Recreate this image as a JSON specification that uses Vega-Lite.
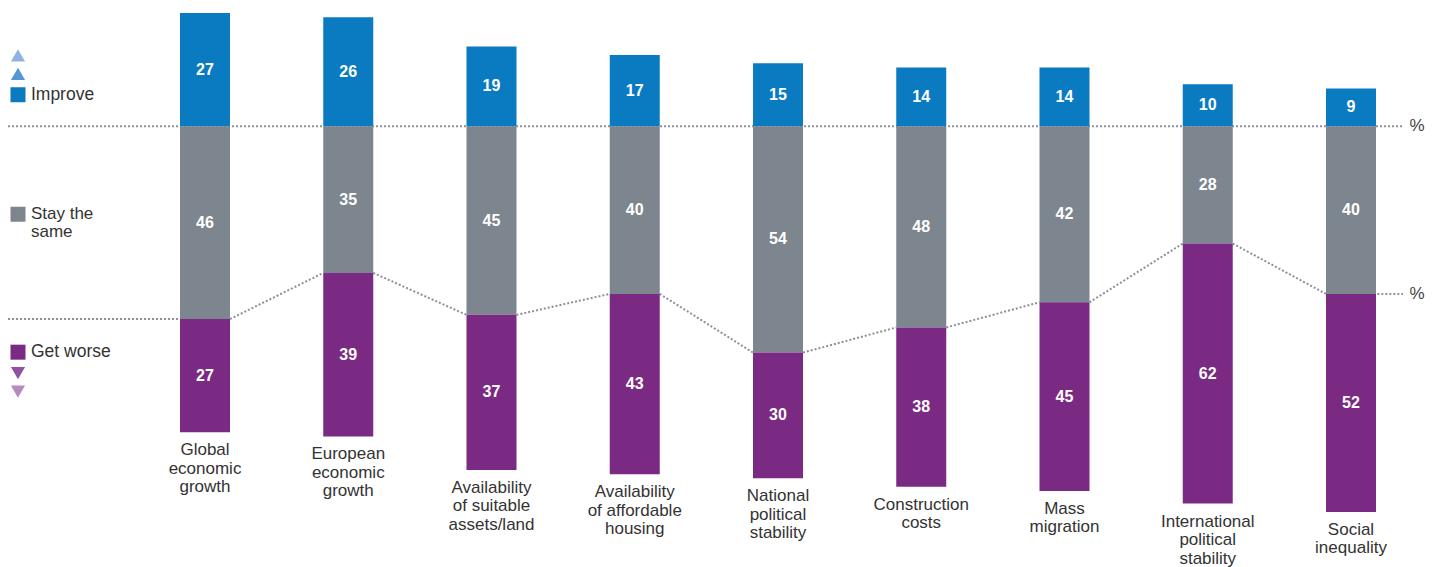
{
  "$schema": "https://vega.github.io/schema/vega-lite/v6.json",
  "width": 1435,
  "height": 567,
  "autosize": {"type": "fit", "contains": "padding"},
  "padding": 0,
  "background": "white",
  "config": {"view": {"stroke": null}, "font": "Liberation Sans"},
  "data": {
    "values": [
      {"cat": "Global\neconomic\ngrowth", "resp": "Improve", "pct": 27},
      {"cat": "Global\neconomic\ngrowth", "resp": "Stay the same", "pct": 46},
      {"cat": "Global\neconomic\ngrowth", "resp": "Get worse", "pct": 27},
      {"cat": "European\neconomic\ngrowth", "resp": "Improve", "pct": 26},
      {"cat": "European\neconomic\ngrowth", "resp": "Stay the same", "pct": 35},
      {"cat": "European\neconomic\ngrowth", "resp": "Get worse", "pct": 39},
      {"cat": "Availability\nof suitable\nassets/land", "resp": "Improve", "pct": 19},
      {"cat": "Availability\nof suitable\nassets/land", "resp": "Stay the same", "pct": 45},
      {"cat": "Availability\nof suitable\nassets/land", "resp": "Get worse", "pct": 37},
      {"cat": "Availability\nof affordable\nhousing", "resp": "Improve", "pct": 17},
      {"cat": "Availability\nof affordable\nhousing", "resp": "Stay the same", "pct": 40},
      {"cat": "Availability\nof affordable\nhousing", "resp": "Get worse", "pct": 43},
      {"cat": "National\npolitical\nstability", "resp": "Improve", "pct": 15},
      {"cat": "National\npolitical\nstability", "resp": "Stay the same", "pct": 54},
      {"cat": "National\npolitical\nstability", "resp": "Get worse", "pct": 30},
      {"cat": "Construction\ncosts", "resp": "Improve", "pct": 14},
      {"cat": "Construction\ncosts", "resp": "Stay the same", "pct": 48},
      {"cat": "Construction\ncosts", "resp": "Get worse", "pct": 38},
      {"cat": "Mass\nmigration", "resp": "Improve", "pct": 14},
      {"cat": "Mass\nmigration", "resp": "Stay the same", "pct": 42},
      {"cat": "Mass\nmigration", "resp": "Get worse", "pct": 45},
      {"cat": "International\npolitical\nstability", "resp": "Improve", "pct": 10},
      {"cat": "International\npolitical\nstability", "resp": "Stay the same", "pct": 28},
      {"cat": "International\npolitical\nstability", "resp": "Get worse", "pct": 62},
      {"cat": "Social\ninequality", "resp": "Improve", "pct": 9},
      {"cat": "Social\ninequality", "resp": "Stay the same", "pct": 40},
      {"cat": "Social\ninequality", "resp": "Get worse", "pct": 52}
    ]
  },
  "resolve": {"scale": {"y": "independent"}},
  "layer": [
    {
      "transform": [
        {"filter": "datum.resp === 'Stay the same'"},
        {"window": [{"op": "lead", "field": "cat", "as": "nextCat"}, {"op": "first_value", "field": "cat", "as": "firstCat"}], "frame": [null, null]},
        {"filter": "datum.nextCat == null"}
      ],
      "mark": {"type": "rule", "color": "#8a9199", "strokeWidth": 2, "strokeDash": [2, 2]},
      "encoding": {
        "x": {"field": "firstCat", "type": "nominal", "bandPosition": -0.875, "axis": null,
          "scale": {"domain": ["legend", "Global\neconomic\ngrowth", "European\neconomic\ngrowth", "Availability\nof suitable\nassets/land", "Availability\nof affordable\nhousing", "National\npolitical\nstability", "Construction\ncosts", "Mass\nmigration", "International\npolitical\nstability", "Social\ninequality"], "range": [-9.875, 1422.625], "paddingInner": 0, "paddingOuter": 0}},
        "x2": {"field": "cat", "bandPosition": 0.863},
        "y": {"datum": 0, "type": "quantitative", "axis": null, "scale": {"domain": [-104.9, 30.1], "nice": false, "zero": false}}
      }
    },
    {
      "transform": [
        {"filter": "datum.resp === 'Stay the same'"},
        {"window": [{"op": "lag", "field": "cat", "as": "prevCat"}]},
        {"filter": "datum.prevCat == null"}
      ],
      "mark": {"type": "rule", "color": "#8a9199", "strokeWidth": 2, "strokeDash": [2, 2]},
      "encoding": {
        "x": {"field": "cat", "type": "nominal", "bandPosition": -0.875, "axis": null,
          "scale": {"domain": ["legend", "Global\neconomic\ngrowth", "European\neconomic\ngrowth", "Availability\nof suitable\nassets/land", "Availability\nof affordable\nhousing", "National\npolitical\nstability", "Construction\ncosts", "Mass\nmigration", "International\npolitical\nstability", "Social\ninequality"], "range": [-9.875, 1422.625], "paddingInner": 0, "paddingOuter": 0}},
        "x2": {"field": "cat", "bandPosition": 0.4},
        "y": {"field": "pct", "type": "quantitative", "axis": null, "scale": {"domain": [-30.1, 104.9], "reverse": true, "nice": false, "zero": false}}
      }
    },
    {
      "transform": [
        {"filter": "datum.resp === 'Stay the same'"},
        {"window": [{"op": "lead", "field": "cat", "as": "nextCat"}, {"op": "lead", "field": "pct", "as": "nextPct"}]},
        {"filter": "datum.nextCat != null"}
      ],
      "mark": {"type": "rule", "color": "#8a9199", "strokeWidth": 2, "strokeDash": [2, 2]},
      "encoding": {
        "x": {"field": "cat", "type": "nominal", "bandPosition": 0.6745, "axis": null,
          "scale": {"domain": ["legend", "Global\neconomic\ngrowth", "European\neconomic\ngrowth", "Availability\nof suitable\nassets/land", "Availability\nof affordable\nhousing", "National\npolitical\nstability", "Construction\ncosts", "Mass\nmigration", "International\npolitical\nstability", "Social\ninequality"], "range": [-9.875, 1422.625], "paddingInner": 0, "paddingOuter": 0}},
        "x2": {"field": "nextCat", "bandPosition": 0.3255},
        "y": {"field": "pct", "type": "quantitative", "axis": null, "scale": {"domain": [-30.1, 104.9], "reverse": true, "nice": false, "zero": false}},
        "y2": {"field": "nextPct"}
      }
    },
    {
      "transform": [
        {"filter": "datum.resp === 'Stay the same'"},
        {"window": [{"op": "lead", "field": "cat", "as": "nextCat"}]},
        {"filter": "datum.nextCat == null"}
      ],
      "mark": {"type": "rule", "color": "#8a9199", "strokeWidth": 2, "strokeDash": [2, 2]},
      "encoding": {
        "x": {"field": "cat", "type": "nominal", "bandPosition": 0.6, "axis": null,
          "scale": {"domain": ["legend", "Global\neconomic\ngrowth", "European\neconomic\ngrowth", "Availability\nof suitable\nassets/land", "Availability\nof affordable\nhousing", "National\npolitical\nstability", "Construction\ncosts", "Mass\nmigration", "International\npolitical\nstability", "Social\ninequality"], "range": [-9.875, 1422.625], "paddingInner": 0, "paddingOuter": 0}},
        "x2": {"field": "cat", "bandPosition": 0.863},
        "y": {"field": "pct", "type": "quantitative", "axis": null, "scale": {"domain": [-30.1, 104.9], "reverse": true, "nice": false, "zero": false}}
      }
    },
    {
      "transform": [
        {"filter": "datum.resp === 'Improve'"},
        {"stack": "pct", "groupby": ["cat"], "as": ["s0", "s1"]}
      ],
      "mark": {"type": "bar", "width": 50},
      "encoding": {
        "x": {"field": "cat", "type": "nominal", "axis": null,
          "scale": {"domain": ["legend", "Global\neconomic\ngrowth", "European\neconomic\ngrowth", "Availability\nof suitable\nassets/land", "Availability\nof affordable\nhousing", "National\npolitical\nstability", "Construction\ncosts", "Mass\nmigration", "International\npolitical\nstability", "Social\ninequality"], "range": [-9.875, 1422.625], "paddingInner": 0, "paddingOuter": 0}},
        "y": {"field": "s0", "type": "quantitative", "axis": null, "scale": {"domain": [-104.9, 30.1], "nice": false, "zero": false}},
        "y2": {"field": "s1"},
        "color": {"field": "resp", "type": "nominal", "legend": null, "scale": {"domain": ["Improve", "Stay the same", "Get worse"], "range": ["#0b7bc1", "#7d858e", "#7a2a83"]}}
      }
    },
    {
      "transform": [
        {"filter": "datum.resp !== 'Improve'"},
        {"stack": "pct", "groupby": ["cat"], "sort": [{"field": "resp", "order": "descending"}], "as": ["s0", "s1"]}
      ],
      "mark": {"type": "bar", "width": 50},
      "encoding": {
        "x": {"field": "cat", "type": "nominal", "axis": null,
          "scale": {"domain": ["legend", "Global\neconomic\ngrowth", "European\neconomic\ngrowth", "Availability\nof suitable\nassets/land", "Availability\nof affordable\nhousing", "National\npolitical\nstability", "Construction\ncosts", "Mass\nmigration", "International\npolitical\nstability", "Social\ninequality"], "range": [-9.875, 1422.625], "paddingInner": 0, "paddingOuter": 0}},
        "y": {"field": "s0", "type": "quantitative", "axis": null, "scale": {"domain": [-30.1, 104.9], "reverse": true, "nice": false, "zero": false}},
        "y2": {"field": "s1"},
        "color": {"field": "resp", "type": "nominal", "legend": null, "scale": {"domain": ["Improve", "Stay the same", "Get worse"], "range": ["#0b7bc1", "#7d858e", "#7a2a83"]}}
      }
    },
    {
      "transform": [
        {"filter": "datum.resp === 'Improve'"},
        {"stack": "pct", "groupby": ["cat"], "as": ["s0", "s1"]},
        {"fold": ["s0", "s1"], "as": ["edge", "pos"]},
        {"aggregate": [{"op": "mean", "field": "pos", "as": "mid"}], "groupby": ["cat", "resp", "pct"]}
      ],
      "mark": {"type": "text", "color": "white", "fontWeight": "bold", "fontSize": 16, "baseline": "middle", "align": "center"},
      "encoding": {
        "x": {"field": "cat", "type": "nominal", "axis": null,
          "scale": {"domain": ["legend", "Global\neconomic\ngrowth", "European\neconomic\ngrowth", "Availability\nof suitable\nassets/land", "Availability\nof affordable\nhousing", "National\npolitical\nstability", "Construction\ncosts", "Mass\nmigration", "International\npolitical\nstability", "Social\ninequality"], "range": [-9.875, 1422.625], "paddingInner": 0, "paddingOuter": 0}},
        "y": {"field": "mid", "type": "quantitative", "axis": null, "scale": {"domain": [-104.9, 30.1], "nice": false, "zero": false}},
        "text": {"field": "pct", "type": "quantitative"}
      }
    },
    {
      "transform": [
        {"filter": "datum.resp !== 'Improve'"},
        {"stack": "pct", "groupby": ["cat"], "sort": [{"field": "resp", "order": "descending"}], "as": ["s0", "s1"]},
        {"fold": ["s0", "s1"], "as": ["edge", "pos"]},
        {"aggregate": [{"op": "mean", "field": "pos", "as": "mid"}], "groupby": ["cat", "resp", "pct"]}
      ],
      "mark": {"type": "text", "color": "white", "fontWeight": "bold", "fontSize": 16, "baseline": "middle", "align": "center"},
      "encoding": {
        "x": {"field": "cat", "type": "nominal", "axis": null,
          "scale": {"domain": ["legend", "Global\neconomic\ngrowth", "European\neconomic\ngrowth", "Availability\nof suitable\nassets/land", "Availability\nof affordable\nhousing", "National\npolitical\nstability", "Construction\ncosts", "Mass\nmigration", "International\npolitical\nstability", "Social\ninequality"], "range": [-9.875, 1422.625], "paddingInner": 0, "paddingOuter": 0}},
        "y": {"field": "mid", "type": "quantitative", "axis": null, "scale": {"domain": [-30.1, 104.9], "reverse": true, "nice": false, "zero": false}},
        "text": {"field": "pct", "type": "quantitative"}
      }
    },
    {
      "transform": [
        {"filter": "datum.resp !== 'Improve'"},
        {"aggregate": [{"op": "sum", "field": "pct", "as": "total"}], "groupby": ["cat"]}
      ],
      "mark": {"type": "text", "color": "#333333", "fontSize": 17, "baseline": "top", "align": "center", "dy": 10, "lineHeight": 18.5, "lineBreak": "\n"},
      "encoding": {
        "x": {"field": "cat", "type": "nominal", "axis": null,
          "scale": {"domain": ["legend", "Global\neconomic\ngrowth", "European\neconomic\ngrowth", "Availability\nof suitable\nassets/land", "Availability\nof affordable\nhousing", "National\npolitical\nstability", "Construction\ncosts", "Mass\nmigration", "International\npolitical\nstability", "Social\ninequality"], "range": [-9.875, 1422.625], "paddingInner": 0, "paddingOuter": 0}},
        "y": {"field": "total", "type": "quantitative", "axis": null, "scale": {"domain": [-30.1, 104.9], "reverse": true, "nice": false, "zero": false}},
        "text": {"field": "cat", "type": "nominal"}
      }
    },
    {
      "data": {"values": [{}]},
      "mark": {"type": "text", "text": "%", "color": "#444444", "fontSize": 17, "baseline": "middle", "align": "center"},
      "encoding": {
        "x": {"datum": "Social\ninequality", "type": "nominal", "bandPosition": 0.961, "axis": null,
          "scale": {"domain": ["legend", "Global\neconomic\ngrowth", "European\neconomic\ngrowth", "Availability\nof suitable\nassets/land", "Availability\nof affordable\nhousing", "National\npolitical\nstability", "Construction\ncosts", "Mass\nmigration", "International\npolitical\nstability", "Social\ninequality"], "range": [-9.875, 1422.625], "paddingInner": 0, "paddingOuter": 0}},
        "y": {"datum": 0, "type": "quantitative", "axis": null, "scale": {"domain": [-104.9, 30.1], "nice": false, "zero": false}}
      }
    },
    {
      "transform": [
        {"filter": "datum.resp === 'Stay the same'"},
        {"window": [{"op": "lead", "field": "cat", "as": "nextCat"}]},
        {"filter": "datum.nextCat == null"}
      ],
      "mark": {"type": "text", "text": "%", "color": "#444444", "fontSize": 17, "baseline": "middle", "align": "center"},
      "encoding": {
        "x": {"field": "cat", "type": "nominal", "bandPosition": 0.961, "axis": null,
          "scale": {"domain": ["legend", "Global\neconomic\ngrowth", "European\neconomic\ngrowth", "Availability\nof suitable\nassets/land", "Availability\nof affordable\nhousing", "National\npolitical\nstability", "Construction\ncosts", "Mass\nmigration", "International\npolitical\nstability", "Social\ninequality"], "range": [-9.875, 1422.625], "paddingInner": 0, "paddingOuter": 0}},
        "y": {"field": "pct", "type": "quantitative", "axis": null, "scale": {"domain": [-30.1, 104.9], "reverse": true, "nice": false, "zero": false}}
      }
    },
    {
      "data": {"values": [{}]},
      "mark": {"type": "point", "shape": "triangle-up", "filled": true, "size": 200, "color": "#8db3e0", "opacity": 1},
      "encoding": {
        "x": {"datum": "legend", "type": "nominal", "bandPosition": 0.1946, "axis": null,
          "scale": {"domain": ["legend", "Global\neconomic\ngrowth", "European\neconomic\ngrowth", "Availability\nof suitable\nassets/land", "Availability\nof affordable\nhousing", "National\npolitical\nstability", "Construction\ncosts", "Mass\nmigration", "International\npolitical\nstability", "Social\ninequality"], "range": [-9.875, 1422.625], "paddingInner": 0, "paddingOuter": 0}},
        "y": {"datum": 16.9, "type": "quantitative", "axis": null, "scale": {"domain": [-104.9, 30.1], "nice": false, "zero": false}}
      }
    },
    {
      "data": {"values": [{}]},
      "mark": {"type": "point", "shape": "triangle-up", "filled": true, "size": 200, "color": "#5597d6", "opacity": 1},
      "encoding": {
        "x": {"datum": "legend", "type": "nominal", "bandPosition": 0.1946, "axis": null,
          "scale": {"domain": ["legend", "Global\neconomic\ngrowth", "European\neconomic\ngrowth", "Availability\nof suitable\nassets/land", "Availability\nof affordable\nhousing", "National\npolitical\nstability", "Construction\ncosts", "Mass\nmigration", "International\npolitical\nstability", "Social\ninequality"], "range": [-9.875, 1422.625], "paddingInner": 0, "paddingOuter": 0}},
        "y": {"datum": 12.5, "type": "quantitative", "axis": null, "scale": {"domain": [-104.9, 30.1], "nice": false, "zero": false}}
      }
    },
    {
      "data": {"values": [{}]},
      "mark": {"type": "point", "shape": "triangle-down", "filled": true, "size": 200, "color": "#93529f", "opacity": 1},
      "encoding": {
        "x": {"datum": "legend", "type": "nominal", "bandPosition": 0.1946, "axis": null,
          "scale": {"domain": ["legend", "Global\neconomic\ngrowth", "European\neconomic\ngrowth", "Availability\nof suitable\nassets/land", "Availability\nof affordable\nhousing", "National\npolitical\nstability", "Construction\ncosts", "Mass\nmigration", "International\npolitical\nstability", "Social\ninequality"], "range": [-9.875, 1422.625], "paddingInner": 0, "paddingOuter": 0}},
        "y": {"datum": -58.9, "type": "quantitative", "axis": null, "scale": {"domain": [-104.9, 30.1], "nice": false, "zero": false}}
      }
    },
    {
      "data": {"values": [{}]},
      "mark": {"type": "point", "shape": "triangle-down", "filled": true, "size": 200, "color": "#b48cc2", "opacity": 1},
      "encoding": {
        "x": {"datum": "legend", "type": "nominal", "bandPosition": 0.1946, "axis": null,
          "scale": {"domain": ["legend", "Global\neconomic\ngrowth", "European\neconomic\ngrowth", "Availability\nof suitable\nassets/land", "Availability\nof affordable\nhousing", "National\npolitical\nstability", "Construction\ncosts", "Mass\nmigration", "International\npolitical\nstability", "Social\ninequality"], "range": [-9.875, 1422.625], "paddingInner": 0, "paddingOuter": 0}},
        "y": {"datum": -63.3, "type": "quantitative", "axis": null, "scale": {"domain": [-104.9, 30.1], "nice": false, "zero": false}}
      }
    },
    {
      "data": {"values": [{}]},
      "mark": {"type": "point", "shape": "square", "filled": true, "size": 225, "opacity": 1},
      "encoding": {
        "x": {"datum": "legend", "type": "nominal", "bandPosition": 0.1946, "axis": null,
          "scale": {"domain": ["legend", "Global\neconomic\ngrowth", "European\neconomic\ngrowth", "Availability\nof suitable\nassets/land", "Availability\nof affordable\nhousing", "National\npolitical\nstability", "Construction\ncosts", "Mass\nmigration", "International\npolitical\nstability", "Social\ninequality"], "range": [-9.875, 1422.625], "paddingInner": 0, "paddingOuter": 0}},
        "y": {"datum": 7.5, "type": "quantitative", "axis": null, "scale": {"domain": [-104.9, 30.1], "nice": false, "zero": false}},
        "color": {"datum": "Improve", "type": "nominal", "legend": null, "scale": {"domain": ["Improve", "Stay the same", "Get worse"], "range": ["#0b7bc1", "#7d858e", "#7a2a83"]}}
      }
    },
    {
      "data": {"values": [{}]},
      "mark": {"type": "point", "shape": "square", "filled": true, "size": 225, "opacity": 1},
      "encoding": {
        "x": {"datum": "legend", "type": "nominal", "bandPosition": 0.1946, "axis": null,
          "scale": {"domain": ["legend", "Global\neconomic\ngrowth", "European\neconomic\ngrowth", "Availability\nof suitable\nassets/land", "Availability\nof affordable\nhousing", "National\npolitical\nstability", "Construction\ncosts", "Mass\nmigration", "International\npolitical\nstability", "Social\ninequality"], "range": [-9.875, 1422.625], "paddingInner": 0, "paddingOuter": 0}},
        "y": {"datum": -21.0, "type": "quantitative", "axis": null, "scale": {"domain": [-104.9, 30.1], "nice": false, "zero": false}},
        "color": {"datum": "Stay the same", "type": "nominal", "legend": null, "scale": {"domain": ["Improve", "Stay the same", "Get worse"], "range": ["#0b7bc1", "#7d858e", "#7a2a83"]}}
      }
    },
    {
      "data": {"values": [{}]},
      "mark": {"type": "point", "shape": "square", "filled": true, "size": 225, "opacity": 1},
      "encoding": {
        "x": {"datum": "legend", "type": "nominal", "bandPosition": 0.1946, "axis": null,
          "scale": {"domain": ["legend", "Global\neconomic\ngrowth", "European\neconomic\ngrowth", "Availability\nof suitable\nassets/land", "Availability\nof affordable\nhousing", "National\npolitical\nstability", "Construction\ncosts", "Mass\nmigration", "International\npolitical\nstability", "Social\ninequality"], "range": [-9.875, 1422.625], "paddingInner": 0, "paddingOuter": 0}},
        "y": {"datum": -53.9, "type": "quantitative", "axis": null, "scale": {"domain": [-104.9, 30.1], "nice": false, "zero": false}},
        "color": {"datum": "Get worse", "type": "nominal", "legend": null, "scale": {"domain": ["Improve", "Stay the same", "Get worse"], "range": ["#0b7bc1", "#7d858e", "#7a2a83"]}}
      }
    },
    {
      "data": {"values": [{}]},
      "mark": {"type": "text", "text": "Improve", "color": "#333333", "fontSize": 17.5, "baseline": "middle", "align": "left"},
      "encoding": {
        "x": {"datum": "legend", "type": "nominal", "bandPosition": 0.285, "axis": null,
          "scale": {"domain": ["legend", "Global\neconomic\ngrowth", "European\neconomic\ngrowth", "Availability\nof suitable\nassets/land", "Availability\nof affordable\nhousing", "National\npolitical\nstability", "Construction\ncosts", "Mass\nmigration", "International\npolitical\nstability", "Social\ninequality"], "range": [-9.875, 1422.625], "paddingInner": 0, "paddingOuter": 0}},
        "y": {"datum": 7.5, "type": "quantitative", "axis": null, "scale": {"domain": [-104.9, 30.1], "nice": false, "zero": false}}
      }
    },
    {
      "data": {"values": [{}]},
      "mark": {"type": "text", "text": "Stay the\nsame", "lineBreak": "\n", "lineHeight": 18, "color": "#333333", "fontSize": 17, "baseline": "middle", "align": "left"},
      "encoding": {
        "x": {"datum": "legend", "type": "nominal", "bandPosition": 0.285, "axis": null,
          "scale": {"domain": ["legend", "Global\neconomic\ngrowth", "European\neconomic\ngrowth", "Availability\nof suitable\nassets/land", "Availability\nof affordable\nhousing", "National\npolitical\nstability", "Construction\ncosts", "Mass\nmigration", "International\npolitical\nstability", "Social\ninequality"], "range": [-9.875, 1422.625], "paddingInner": 0, "paddingOuter": 0}},
        "y": {"datum": -21.0, "type": "quantitative", "axis": null, "scale": {"domain": [-104.9, 30.1], "nice": false, "zero": false}}
      }
    },
    {
      "data": {"values": [{}]},
      "mark": {"type": "text", "text": "Get worse", "color": "#333333", "fontSize": 17.5, "baseline": "middle", "align": "left"},
      "encoding": {
        "x": {"datum": "legend", "type": "nominal", "bandPosition": 0.285, "axis": null,
          "scale": {"domain": ["legend", "Global\neconomic\ngrowth", "European\neconomic\ngrowth", "Availability\nof suitable\nassets/land", "Availability\nof affordable\nhousing", "National\npolitical\nstability", "Construction\ncosts", "Mass\nmigration", "International\npolitical\nstability", "Social\ninequality"], "range": [-9.875, 1422.625], "paddingInner": 0, "paddingOuter": 0}},
        "y": {"datum": -53.9, "type": "quantitative", "axis": null, "scale": {"domain": [-104.9, 30.1], "nice": false, "zero": false}}
      }
    }
  ]
}
